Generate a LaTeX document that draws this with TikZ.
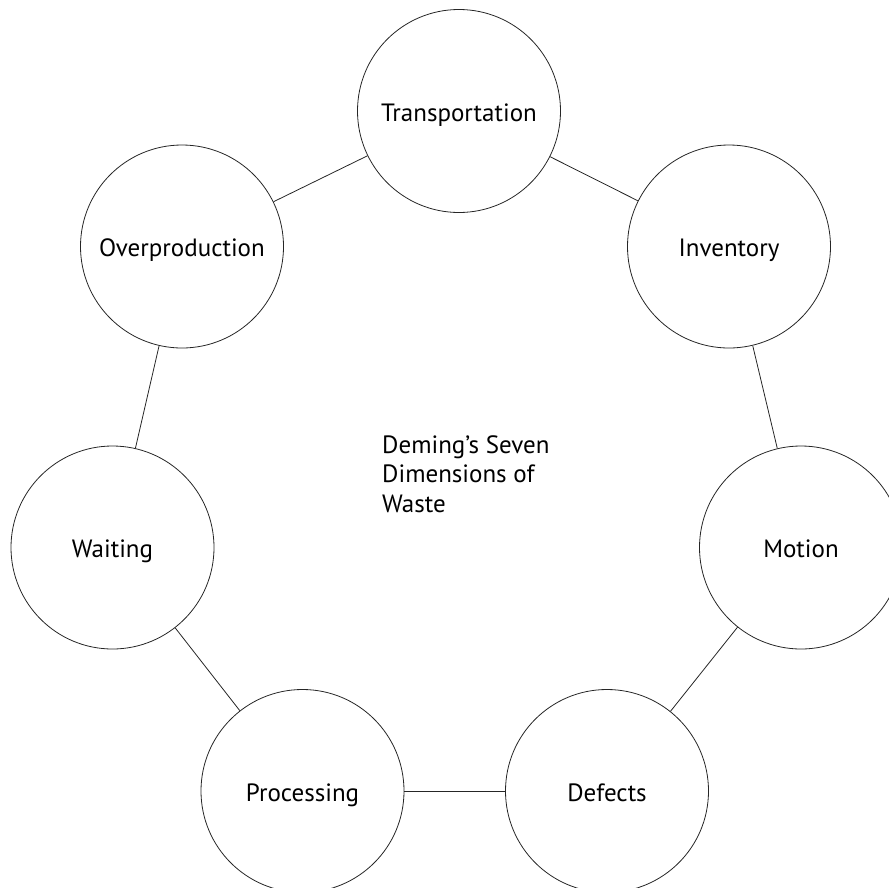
\documentclass[tikz,border=0pt]{standalone}
\usepackage{fontspec}
\setmainfont{PT Sans}
\usepackage{tikz}
\usetikzlibrary{positioning}
\tikzset{%
	every waste/.style={
		circle,
		draw=black!85,
		line width=0.8pt,
		minimum size=203pt,
		inner sep=0pt,
		text height=20pt,
		text depth=0pt,
		font=\fontsize{25}{30}\selectfont
	},
	waste link/.style={
		draw=black!85,
		line width=0.8pt
	},
}
\begin{document}
\begin{tikzpicture}[x=1pt,y=-1pt]
				\useasboundingbox (0,0) rectangle (889,887);
				% Seven wastes
				\foreach \i/\x/\y/\txt in {1/459/111/Transportation,
					2/729/246.5/Inventory,
					3/801/547.5/Motion,
					4/607/791/Defects,
					5/302.5/791/Processing,
					6/112.5/547.5/Waiting,
					7/182/246.5/Overproduction}
				{
					\node[every waste] (Waste-\i) at (\x,\y) {\txt};
				}
				% Connect neighbours
				\foreach \i/\j in {1/2,2/3,3/4,4/5,5/6,6/7,7/1}
				{
					\draw[waste link] (Waste-\i) -- (Waste-\j);
				}
				% Title
				\node[align=left, anchor=west, inner sep=0pt,
				font=\fontsize{25}{29.5}\selectfont] (Title) at (382,474)
				{Deming’s Seven\\Dimensions of\\Waste};
			\end{tikzpicture}
\end{document}
